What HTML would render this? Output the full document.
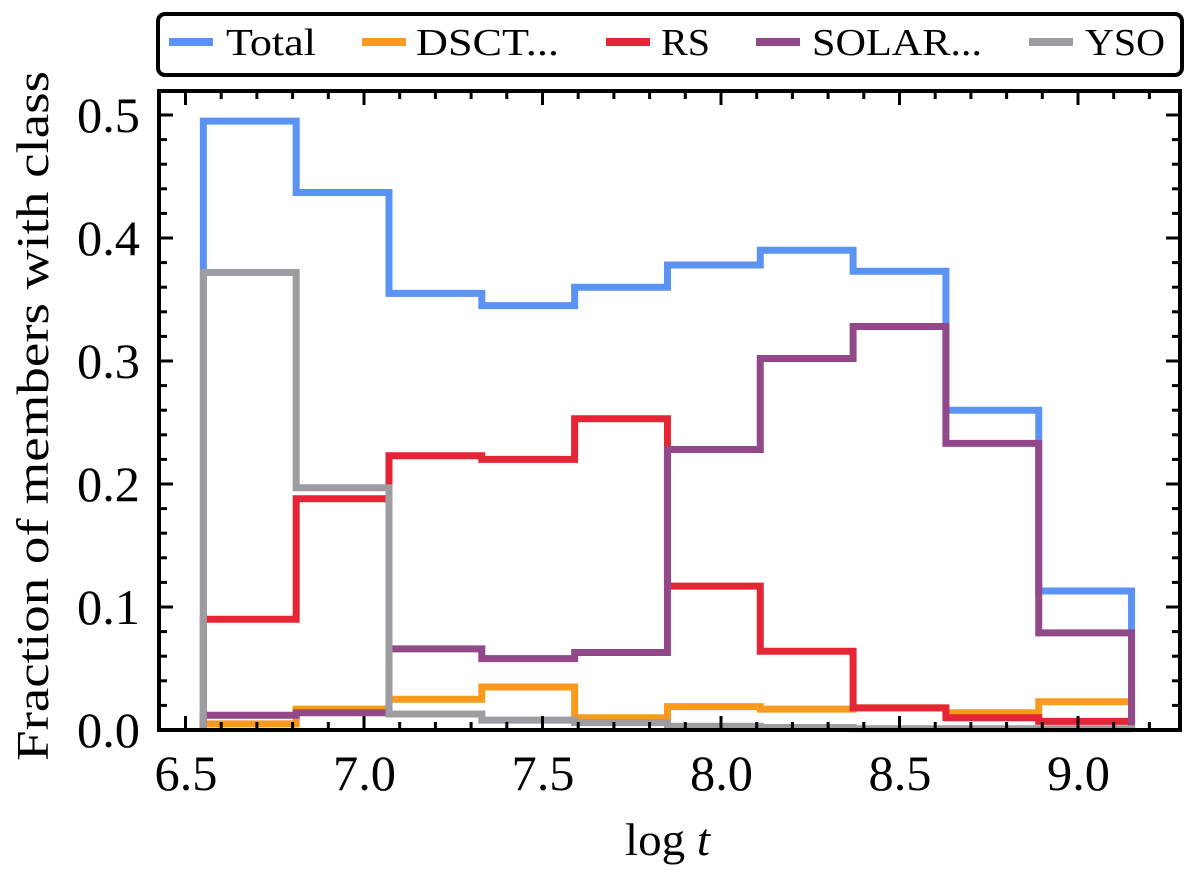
<!DOCTYPE html>
<html><head><meta charset="utf-8"><style>
body{margin:0;background:#fff;width:1200px;height:881px;overflow:hidden}
svg text{font-family:"Liberation Serif",serif;fill:#000}
</style></head><body>
<svg id="chart" width="1200" height="881" xmlns="http://www.w3.org/2000/svg">
<g id="marks"></g><g id="axes"></g>
<g id="legend">
<rect x="158" y="14" width="1024" height="61" rx="7" fill="#fff" stroke="#000" stroke-width="4"/>
</g>
<text transform="translate(48,416) rotate(-90)" text-anchor="middle" font-size="46" textLength="690" lengthAdjust="spacingAndGlyphs">Fraction of members with class</text>
<text x="625" y="855" font-size="46" textLength="85" lengthAdjust="spacingAndGlyphs">log <tspan font-style="italic">t</tspan></text>
</svg>
<script>
const edges=[6.55,6.81,7.07,7.33,7.59,7.85,8.11,8.37,8.63,8.89,9.15];
const seriesNames=["Total","DSCT...","RS","SOLAR...","YSO"];
const colors=["#5b93f5","#f79a1e","#e42535","#93488a","#9c9ca1"];
const total=[0.495,0.437,0.355,0.345,0.360,0.378,0.390,0.373,0.260,0.113];
const dsct=[0.005,0.017,0.025,0.035,0.010,0.019,0.017,0.018,0.014,0.023];
const rs=[0.090,0.188,0.223,0.220,0.253,0.117,0.064,0.018,0.010,0.007];
const solar=[0.012,0.014,0.066,0.058,0.063,0.228,0.302,0.328,0.233,0.079];
const yso=[0.372,0.197,0.013,0.008,0.006,0.003,0.002,0.001,0.001,0.001];
const xTicks=[6.5,7.0,7.5,8.0,8.5,9.0];
const yTicks=[0,0.1,0.2,0.3,0.4,0.5];
const L=159,R=1180,T=91,B=730;
const x=v=>185.5+(v-6.5)*357;
const y=v=>730-v*1230;
const NS="http://www.w3.org/2000/svg";
const marks=document.getElementById('marks'),axes=document.getElementById('axes'),leg=document.getElementById('legend');
const all=[total,dsct,rs,solar,yso];
const keys=["total","dsct","rs","solar","yso"];
all.forEach((s,k)=>{
 let d=`M${x(edges[0])},${y(0)}`;
 s.forEach((v,i)=>{d+=` L${x(edges[i])},${y(v)} L${x(edges[i+1])},${y(v)}`});
 d+=` L${x(edges[edges.length-1])},${y(0)}`;
 const p=document.createElementNS(NS,'path');
 p.setAttribute('d',d);p.setAttribute('fill','none');p.setAttribute('stroke',colors[k]);p.setAttribute('stroke-width','7');
 
 
 marks.appendChild(p);
});
function ln(x1,y1,x2,y2,w){const l=document.createElementNS(NS,'line');l.setAttribute('x1',x1);l.setAttribute('y1',y1);l.setAttribute('x2',x2);l.setAttribute('y2',y2);l.setAttribute('stroke','#000');l.setAttribute('stroke-width',w);axes.appendChild(l);return l;}
const fr=document.createElementNS(NS,'rect');
fr.setAttribute('x',L);fr.setAttribute('y',T);fr.setAttribute('width',R-L);fr.setAttribute('height',B-T);fr.setAttribute('fill','none');fr.setAttribute('stroke','#000');fr.setAttribute('stroke-width','4');


axes.appendChild(fr);
for(let i=0;i<=30;i++){const v=6.5+i*0.1-0.1;const px=x(v);if(px<=L+2||px>=R-2)continue;const maj=Math.abs((v*2)-Math.round(v*2))<1e-6;const len=maj?14:8;ln(px,B,px,B-len,3);ln(px,T,px,T+len,3);}
for(let i=0;i<=26;i++){const v=i*0.02;const py=y(v);if(py>=B-2||py<=T+2)continue;const maj=i%5==0;const len=maj?14:8;ln(L,py,L+len,py,3);ln(R,py,R-len,py,3);}
xTicks.forEach(v=>{const t=document.createElementNS(NS,'text');t.setAttribute('x',x(v)-31);t.setAttribute('y',790);t.setAttribute('font-size','50');t.setAttribute('textLength','63');t.setAttribute('lengthAdjust','spacingAndGlyphs');t.textContent=v.toFixed(1);


axes.appendChild(t);});
yTicks.forEach(v=>{const t=document.createElementNS(NS,'text');t.setAttribute('x',77);t.setAttribute('y',y(v)+17);t.setAttribute('font-size','50');t.setAttribute('textLength','63');t.setAttribute('lengthAdjust','spacingAndGlyphs');t.textContent=v.toFixed(1);


axes.appendChild(t);});
const lx=[169,362,606,756,1029];
const tx=[226,416,661,812,1085];
const tw=[90,143,49,170,80];
seriesNames.forEach((n,k)=>{
 const g=document.createElementNS(NS,'g');
 
 
 const l=document.createElementNS(NS,'line');l.setAttribute('x1',lx[k]);l.setAttribute('x2',lx[k]+44);l.setAttribute('y1',42);l.setAttribute('y2',42);l.setAttribute('stroke',colors[k]);l.setAttribute('stroke-width','8');
 const t=document.createElementNS(NS,'text');t.setAttribute('x',tx[k]);t.setAttribute('y',55);t.setAttribute('font-size','38');t.setAttribute('textLength',tw[k]);t.setAttribute('lengthAdjust','spacingAndGlyphs');t.textContent=n;
 g.appendChild(l);g.appendChild(t);leg.appendChild(g);
});
</script>
</body></html>
